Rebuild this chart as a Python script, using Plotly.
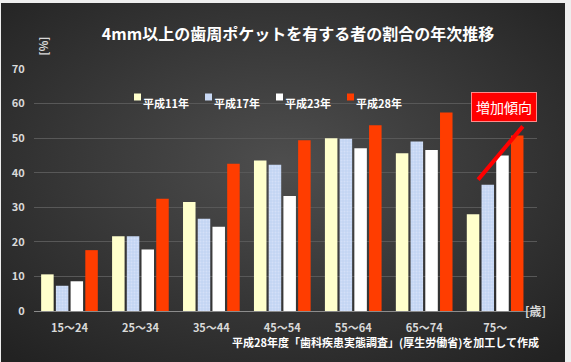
import base64
import plotly.graph_objects as go

categories = ["15～24", "25～34", "35～44", "45～54", "55～64", "65～74", "75～"]
series_names = ["平成11年", "平成17年", "平成23年", "平成28年"]
h11 = [10.6, 21.6, 31.5, 43.5, 50.0, 45.6, 28.0]
h17 = [7.3, 21.6, 26.7, 42.3, 49.8, 49.0, 36.5]
h23 = [8.6, 17.8, 24.4, 33.3, 47.1, 46.6, 45.0]
h28 = [17.6, 32.5, 42.6, 49.4, 53.7, 57.4, 50.8]
y_ticks = [0, 10, 20, 30, 40, 50, 60, 70]

W, H = 571, 362
ML, MR, MT, MB = 34, 34, 69, 51
PW, PH = W - ML - MR, H - MT - MB

colors = ["#ffffcc", "#c8d8f4", "#ffffff", "#ff3d00"]
FONT = "Noto Sans CJK JP"

fig = go.Figure()
for name, vals, col in zip(series_names, [h11, h17, h23, h28], colors):
    marker = dict(color=col, line=dict(width=0))
    if name == "平成17年":
        marker["pattern"] = dict(shape=".", fgcolor="#e4ecfb", bgcolor="#c3d4f2",
                                 size=3, solidity=0.35)
    fig.add_trace(go.Bar(x=categories, y=vals, name=name, marker=marker, showlegend=False))

svg = ("<svg xmlns='http://www.w3.org/2000/svg' width='564' height='359' preserveAspectRatio='none'>"
       "<defs><radialGradient id='g' cx='50%' cy='45%' r='72%'>"
       "<stop offset='0' stop-color='#4e4e4e'/><stop offset='1' stop-color='#222222'/>"
       "</radialGradient></defs><rect width='100%' height='100%' fill='url(#g)'/></svg>")
uri = "data:image/svg+xml;base64," + base64.b64encode(svg.encode()).decode()


def px(x):
    return (x - ML) / PW


def py(y):
    return (H - MB - y) / PH


fig.add_layout_image(dict(source=uri, xref="paper", yref="paper",
                          x=px(1), y=py(3), sizex=(565 - 1) / PW, sizey=(362 - 3) / PH,
                          xanchor="left", yanchor="top", sizing="stretch", layer="below"))

# manual legend
leg_x0, leg_step, leg_y = 134, 71, 97
for i, (name, col) in enumerate(zip(series_names, colors)):
    sx = leg_x0 + i * leg_step
    fig.add_shape(type="rect", xref="paper", yref="paper",
                  x0=px(sx), x1=px(sx + 7), y0=py(leg_y + 3.5), y1=py(leg_y - 3.5),
                  fillcolor=col, line=dict(width=0))
    fig.add_annotation(xref="paper", yref="paper", x=px(sx + 7), y=py(leg_y - 4), xanchor="left",
                       text="<b>" + name + "</b>", showarrow=False,
                       font=dict(family=FONT, size=11, color="#ffffff"))

# trend line
fig.add_shape(type="line", xref="x", yref="y", x0=5.76, y0=38.0, x1=6.39, y1=53.4,
              line=dict(color="#ff0000", width=4))

fig.add_annotation(xref="x", yref="y", x=6.125, y=59.1, text="増加傾向", showarrow=False,
                   font=dict(family=FONT, size=14, color="#ffffff"),
                   bgcolor="#ff0000", bordercolor="#ff8a8a", borderwidth=1, borderpad=4)

fig.add_annotation(xref="paper", yref="paper", x=px(32), y=py(35), text="<b>[%]</b>", showarrow=False,
                   textangle=-90, font=dict(family=FONT, size=11, color="#d9d9d9"))
fig.add_annotation(xref="paper", yref="paper", x=px(548), y=py(321), text="<b>[歳]</b>", showarrow=False,
                   font=dict(family=FONT, size=12, color="#d9d9d9"))
fig.add_annotation(xref="paper", yref="paper", x=px(541), y=py(352), xanchor="right",
                   text="<b>平成28年度「歯科疾患実態調査」(厚生労働省)を加工して作成</b>", showarrow=False,
                   font=dict(family=FONT, size=11, color="#ffffff"))

fig.update_layout(
    width=W, height=H,
    margin=dict(l=ML, r=MR, t=MT, b=MB, pad=0, autoexpand=False),
    paper_bgcolor="#eeeeee", plot_bgcolor="rgba(0,0,0,0)",
    barmode="group", bargap=0.17, bargroupgap=0.15,
    title=dict(text="<b>4mm以上の歯周ポケットを有する者の割合の年次推移</b>",
               x=298 / W, xanchor="center", y=1 - 34 / H, yanchor="middle",
               font=dict(family=FONT, size=16, color="#ffffff")),
    font=dict(family=FONT),
    showlegend=False,
)
fig.update_xaxes(type="category", showgrid=False, showline=True, linecolor="#8c8c8c", linewidth=1,
                 automargin=False,
                 ticks="outside", ticklen=7, tickcolor="rgba(0,0,0,0)",
                 tickfont=dict(family=FONT, size=11, color="#d9d9d9", weight="bold"))
fig.update_yaxes(range=[0, 70], tickvals=y_ticks, showgrid=True, gridcolor="#585858", gridwidth=1,
                 zeroline=False, showline=False, automargin=False,
                 ticks="outside", ticklen=6, tickcolor="rgba(0,0,0,0)",
                 tickfont=dict(family=FONT, size=11, color="#d9d9d9", weight="bold"))

fig.write_html("out.html", config={"displayModeBar": False},
               post_script="document.body.style.margin='0';document.body.style.padding='0';")
